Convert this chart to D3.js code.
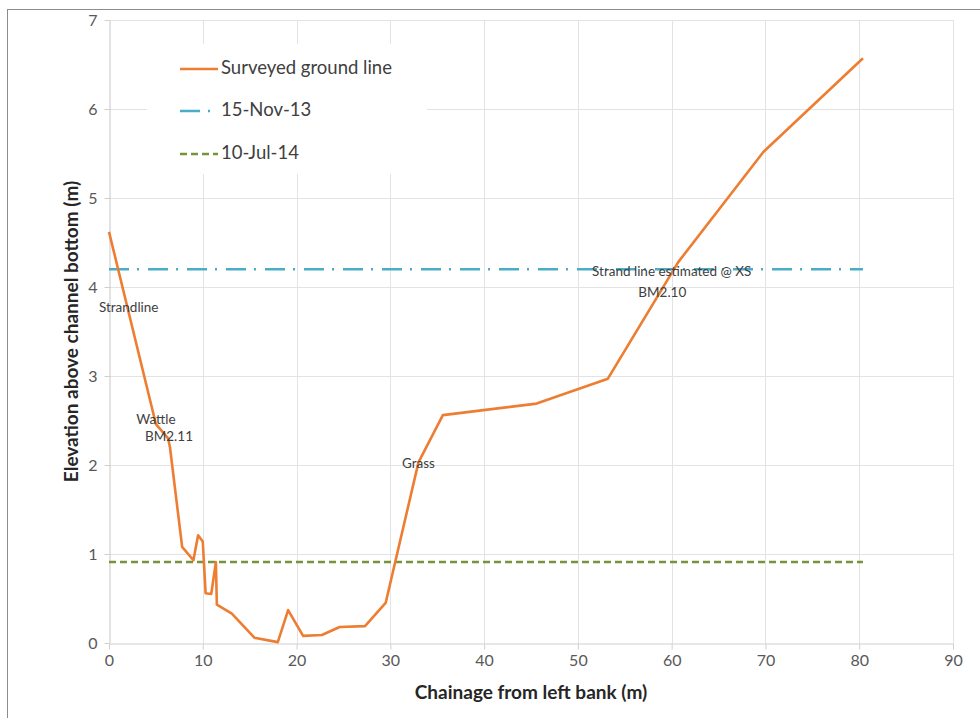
<!DOCTYPE html>
<html>
<head>
<meta charset="utf-8">
<script src="https://cdn.jsdelivr.net/npm/d3@7"></script>
<style>
  html, body { margin: 0; padding: 0; background: #fff; }
  svg { display: block; font-family: Lato, "Open Sans", sans-serif; }
</style>
</head>
<body>
<svg id="chart" width="980" height="718"></svg>
<script>
// Cross-section survey: chainage (m) vs elevation above channel bottom (m)
const chainage = [0, 5.0, 6.3, 6.5, 7.8, 9.0, 9.5, 10.0, 10.3, 10.9, 11.4, 11.5, 13.1, 15.5, 18.0, 19.1, 20.7, 22.7, 24.6, 27.3, 29.5, 33.0, 35.6, 45.6, 53.2, 60.7, 69.8, 80.4];
const elevation = [4.62, 2.46, 2.3, 2.2, 1.08, 0.93, 1.21, 1.14, 0.56, 0.55, 0.91, 0.43, 0.33, 0.06, 0.01, 0.37, 0.08, 0.09, 0.18, 0.19, 0.45, 2.03, 2.56, 2.69, 2.97, 4.28, 5.52, 6.57];

// Flood level lines (constant elevation across the section)
const levelNames = ["15-Nov-13", "10-Jul-14"];
const levelValues = [4.2, 0.91];
const levelExtent = [0, 80.4];

const seriesNames = ["Surveyed ground line", "15-Nov-13", "10-Jul-14"];
const xTicks = [0, 10, 20, 30, 40, 50, 60, 70, 80, 90];
const yTicks = [0, 1, 2, 3, 4, 5, 6, 7];

// Point notes placed on the section
const noteText = ["Strandline", "Wattle", "BM2.11", "Grass", "Strand line estimated @ XS", "BM2.10"];
const noteX = [2.1, 5.0, 6.4, 33.0, 60.0, 59.0];
const noteY = [3.76, 2.50, 2.31, 2.0, 4.16, 3.93];

const colors = { ground: "#ED7D31", nov: "#4BACC6", jul: "#77933C" };

const svg = d3.select("#chart");
const m = { left: 109, right: 953, top: 20, bottom: 643 };

const x = d3.scaleLinear().domain([0, 90]).range([m.left, m.right]);
const y = d3.scaleLinear().domain([0, 7]).range([m.bottom, m.top]);

// Outer chart frame
svg.append("rect")
  .attr("x", 7.5).attr("y", 9.5)
  .attr("width", 990).attr("height", 720)
  .attr("fill", "none").attr("stroke", "#8c8c8c").attr("stroke-width", 1);

// Gridlines
const grid = svg.append("g").attr("stroke", "#e3e3e3").attr("stroke-width", 1);
grid.selectAll(".gx").data(xTicks.filter(d => d > 0)).join("line")
  .attr("x1", d => Math.round(x(d)) + 0.5).attr("x2", d => Math.round(x(d)) + 0.5)
  .attr("y1", y(7)).attr("y2", y(0));
grid.selectAll(".gy").data(yTicks.filter(d => d > 0)).join("line")
  .attr("x1", x(0)).attr("x2", x(90))
  .attr("y1", d => Math.round(y(d)) + 0.5).attr("y2", d => Math.round(y(d)) + 0.5);

// Axes
const xAxis = svg.append("g")
  .attr("transform", `translate(0,${y(0) + 0.5})`)
  .call(d3.axisBottom(x).tickValues(xTicks).tickFormat(d3.format("d"))
    .tickSize(6).tickSizeOuter(0).tickPadding(5));
const yAxis = svg.append("g")
  .attr("transform", `translate(${x(0) + 0.5},0)`)
  .call(d3.axisLeft(y).tickValues(yTicks).tickFormat(d3.format("d"))
    .tickSize(5).tickSizeOuter(0).tickPadding(7));
[xAxis, yAxis].forEach(a => {
  a.select(".domain").attr("stroke", "#d0d0d0").attr("stroke-width", 1.2);
  a.selectAll(".tick line").attr("stroke", "#d0d0d0");
  a.selectAll(".tick text").attr("fill", "#595959").style("font-size", "16px")
    .style("font-family", "Lato, 'Open Sans', sans-serif");
});

// Axis titles
svg.append("text")
  .attr("x", (m.left + m.right) / 2).attr("y", 699)
  .attr("text-anchor", "middle")
  .attr("fill", "#262626").style("font-size", "19px").style("font-weight", "bold")
  .text("Chainage from left bank (m)");
svg.append("text")
  .attr("transform", `translate(78,${(m.top + m.bottom) / 2}) rotate(-90)`)
  .attr("text-anchor", "middle")
  .attr("fill", "#262626").style("font-size", "19px").style("font-weight", "bold")
  .text("Elevation above channel bottom (m)");

// Level lines
const levelStyle = [
  { color: colors.nov, dash: "20,8,2,9", width: 2.6 },
  { color: colors.jul, dash: "7,4", width: 2.4 }
];
levelValues.forEach((v, i) => {
  svg.append("path")
    .datum(levelExtent.map(c => [c, v]))
    .attr("fill", "none")
    .attr("stroke", levelStyle[i].color)
    .attr("stroke-width", levelStyle[i].width)
    .attr("stroke-dasharray", levelStyle[i].dash)
    .attr("d", d3.line().x(d => x(d[0])).y(d => y(d[1])));
});

// Surveyed ground line
const ground = chainage.map((c, i) => [c, elevation[i]]);
svg.append("path")
  .datum(ground)
  .attr("fill", "none")
  .attr("stroke", colors.ground)
  .attr("stroke-width", 2.6)
  .attr("stroke-linejoin", "round")
  .attr("d", d3.line().x(d => x(d[0])).y(d => y(d[1])));

// Notes
svg.append("g").selectAll("text").data(noteText).join("text")
  .attr("x", (d, i) => x(noteX[i]))
  .attr("y", (d, i) => y(noteY[i]))
  .attr("text-anchor", "middle")
  .attr("dominant-baseline", "middle")
  .attr("fill", "#404040")
  .style("font-size", "13.5px")
  .text(d => d);

// Legend
const legend = svg.append("g");
legend.append("rect")
  .attr("x", 147).attr("y", 44).attr("width", 280).attr("height", 130)
  .attr("fill", "#fff");
const legendStyle = [
  { color: colors.ground, dash: null },
  levelStyle[0],
  levelStyle[1]
];
const legendY = [69, 111, 154];
seriesNames.forEach((name, i) => {
  legend.append("line")
    .attr("x1", 180).attr("x2", 218)
    .attr("y1", legendY[i]).attr("y2", legendY[i])
    .attr("stroke", legendStyle[i].color)
    .attr("stroke-width", 2.6)
    .attr("stroke-dasharray", legendStyle[i].dash);
  legend.append("text")
    .attr("x", 221).attr("y", legendY[i])
    .attr("dominant-baseline", "middle")
    .attr("fill", "#404040")
    .style("font-size", "18.5px")
    .text(name);
});
</script>
</body>
</html>
